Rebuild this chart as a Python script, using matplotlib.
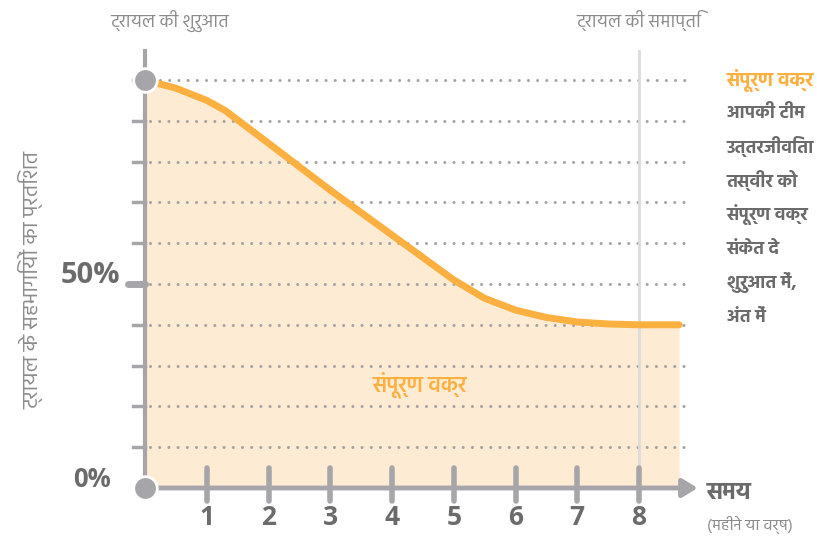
import matplotlib
matplotlib.use('Agg')
from matplotlib import pyplot as plt
from matplotlib import font_manager
from matplotlib.ft2font import FT2Font

# survival curve, share of participants (%) over time
months = [0, 0.5, 1, 1.3, 2, 3, 4, 4.5, 5, 5.5, 6, 6.5, 7, 7.5, 8, 8.65]
pct = [100, 98, 95, 92.5, 84.5, 73, 62, 56.5, 51, 46.5, 43.6, 41.8, 40.7, 40.2, 40, 40]

grid_levels = [10, 20, 30, 40, 50, 60, 70, 80, 90, 100]
x_ticks = [1, 2, 3, 4, 5, 6, 7, 8]

title_start = 'ट्रायल की शुरुआत'
title_end = 'ट्रायल की समाप्ति'
y_title = 'ट्रायल के सहभागियों का प्रतिशत'
x_title = 'समय'
x_sub = '(महीने या वर्ष)'
curve_name = 'संपूर्ण वक्र'
note_lines = ['आपकी टीम',
              'उत्तरजीविता',
              'तस्वीर को',
              'संपूर्ण वक्र',
              'संकेत दे',
              'शुरुआत में,',
              'अंत में']


def devanagari_family():
    found = set()
    for f in font_manager.fontManager.ttflist:
        try:
            if 0x0915 in FT2Font(f.fname).get_charmap():
                found.add(f.name)
        except Exception:
            pass
    for name in ['Hind', 'Mukta', 'Noto Sans Devanagari', 'Amiko', 'FreeSans']:
        if name in found:
            return name
    return 'DejaVu Sans'


deva = devanagari_family()
plt.rcParams['font.family'] = [deva, 'Open Sans', 'DejaVu Sans']
NUM_FONT = ['Open Sans', 'DejaVu Sans']

ORANGE = '#FBB040'
FILL = '#FEEBD4'
GRAY = '#A6A6AA'
DOT = '#A3A3A3'
DARK = '#6B6B6B'
LABEL = '#8C8C8C'

fig = plt.figure(figsize=(8.17, 5.41), dpi=100)
ax = fig.add_axes([0, 0, 1, 1])
ax.set_xlim(-145 / 61.75, (817 - 145) / 61.75)
ax.set_ylim(-53 / 4.08, (541 - 53) / 4.08)
ax.axis('off')

# shaded area under the curve
ax.fill_between(months, pct, 0, color=FILL, lw=0, zorder=1)

# dotted guides every 10%
for lvl in grid_levels:
    start = 0.25 if lvl == 100 else 0.08
    ax.plot([start, 8.75], [lvl, lvl], color=DOT, lw=2.2,
            linestyle=(0, (0.01, 3.0)), dash_capstyle='round', zorder=2)
    ax.plot([-0.2, 0], [lvl, lvl], color=GRAY, lw=2.5, zorder=3)
ax.plot([-0.28, 0], [50, 50], color=GRAY, lw=5, solid_capstyle='round', zorder=3)

# end-of-trial marker
ax.plot([8, 8], [0, 107], color='#DCDCDC', lw=2, zorder=2)

# the curve itself
ax.plot(months, pct, color=ORANGE, lw=5, solid_capstyle='round',
        solid_joinstyle='round', zorder=4)

# axes
ax.plot([0, 0], [0, 107], color=GRAY, lw=3, zorder=5)
ax.annotate('', xy=(8.95, 0), xytext=(0, 0),
            arrowprops=dict(arrowstyle='-|>,head_length=0.9,head_width=0.55',
                            color=GRAY, lw=3.5, shrinkA=0, shrinkB=0),
            zorder=5)
for t in x_ticks:
    ax.plot([t, t], [4.8, -3.3], color=GRAY, lw=4, solid_capstyle='round', zorder=5)
    ax.text(t, -7.2, str(t), ha='center', va='center', fontsize=19,
            fontweight='bold', color=DARK, family=NUM_FONT)

ax.plot([0, 0], [100, 0], 'o', ms=17, color=GRAY, mec='white', mew=2,
        zorder=6, clip_on=False)

ax.text(-0.4, 52, '50%', ha='right', va='center', fontsize=21,
        fontweight='bold', color=DARK, family=NUM_FONT)
ax.text(-0.55, 2, '0%', ha='right', va='center', fontsize=18.5,
        fontweight='bold', color=DARK, family=NUM_FONT)

ax.text(-1.85, 51, y_title, rotation=90, ha='center', va='center',
        fontsize=15.5, color=LABEL)
ax.text(0.4, 114.5, title_start, ha='center', va='center', fontsize=13, color=LABEL)
ax.text(8.0, 114.5, title_end, ha='center', va='center', fontsize=13, color=LABEL)

ax.text(9.1, -1.2, x_title, ha='left', va='center', fontsize=17,
        fontweight='bold', color=DARK)
ax.text(9.1, -9.0, x_sub, ha='left', va='center', fontsize=11.5, color=LABEL)

ax.text(4.45, 25.2, curve_name, ha='center', va='center', fontsize=15.5,
        fontweight='semibold', color=ORANGE)

# side note
ax.text(9.42, 100, curve_name, ha='left', va='center', fontsize=14,
        fontweight='bold', color=ORANGE)
for i, line in enumerate(note_lines):
    ax.text(9.42, 92 - i * 8.35, line, ha='left', va='center', fontsize=13,
            fontweight='bold', color=DARK)

fig.savefig('out.png', dpi=100)
